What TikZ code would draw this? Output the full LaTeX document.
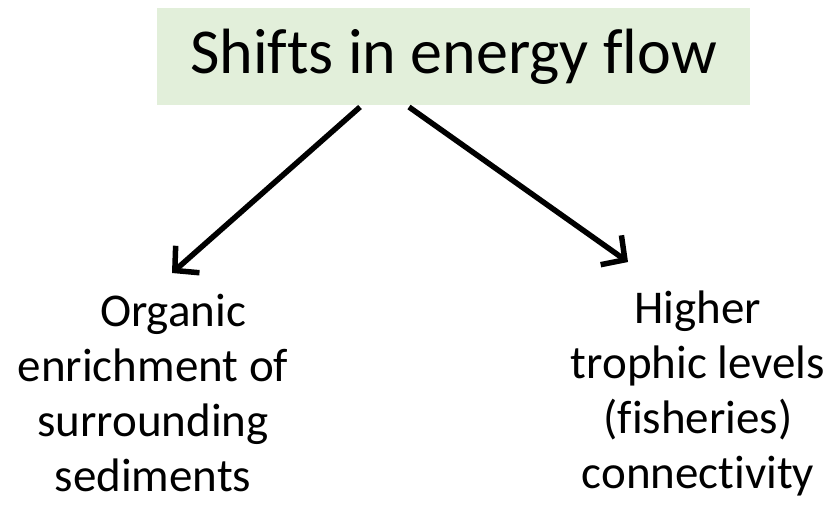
\documentclass[tikz,border=0pt]{standalone}
\usepackage{fontspec}
\setmainfont{Carlito}[Ligatures=NoCommon]
\usetikzlibrary{arrows.meta}
\definecolor{boxgreen}{HTML}{E2EFDA}
\tikzset{
  title/.style={fill=boxgreen, minimum width=593pt, minimum height=97pt, inner sep=0pt, font=\fontsize{64}{66}\selectfont},
  leaf/.style={align=center, font=\fontsize{47}{55}\selectfont, inner sep=0pt},
  arr/.style={line width=5.5pt, -{Straight Barb[length=17pt, width=36pt, line width=5.5pt]}}
}
\begin{document}
\begin{tikzpicture}[x=1pt,y=-1pt]
\useasboundingbox (0,0) rectangle (833,507);
\node[title] (t) at (453.5,56.5) {Shifts in energy flow};
\coordinate (ls) at (360,107);
\coordinate (le) at (172,273);
\coordinate (rs) at (409,107);
\coordinate (re) at (628,262);
\draw[arr] (ls) -- (le);
\draw[arr] (rs) -- (re);
\node[leaf] (l) at (153,393) {\hspace*{40pt}Organic\\enrichment of\\surrounding\\sediments};
\node[leaf] (r) at (698,393) {Higher\\trophic levels\\(fisheries)\\connectivity};
\end{tikzpicture}
\end{document}
